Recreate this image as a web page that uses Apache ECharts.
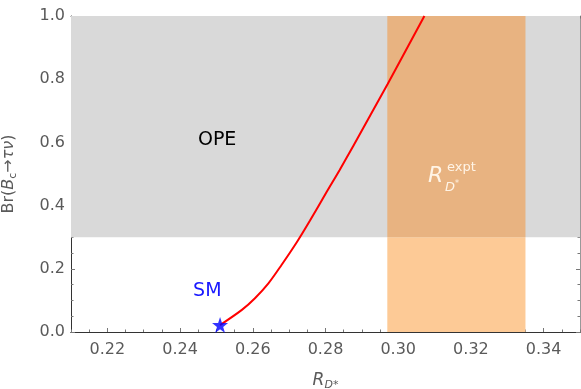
<!DOCTYPE html>
<html>
<head>
<meta charset="utf-8">
<script src="https://cdn.jsdelivr.net/npm/echarts@6/dist/echarts.min.js"></script>
<style>
html, body { margin: 0; padding: 0; background: #fff; }
#main { width: 581px; height: 389px; }
</style>
</head>
<body>
<div id="main"></div>
<script>
// curve Br(Bc -> tau nu) vs R_D*
var curveX = [0.2510, 0.2570, 0.2606, 0.2643, 0.2679, 0.2721, 0.2757, 0.2803, 0.2839, 0.2876, 0.2971, 0.3072];
var curveY = [0.022, 0.070, 0.107, 0.154, 0.212, 0.284, 0.352, 0.443, 0.513, 0.588, 0.785, 1.000];
var smPoint = [0.2510, 0.022];
var opeBound = [0.3, 1.0];
var exptBand = [0.297, 0.335];
var xMajor = [0.22, 0.24, 0.26, 0.28, 0.30, 0.32, 0.34];
var xMinor = [0.21, 0.215, 0.225, 0.23, 0.235, 0.245, 0.25, 0.255, 0.265, 0.27, 0.275, 0.285, 0.29, 0.295, 0.305, 0.31, 0.315, 0.325, 0.33, 0.335, 0.345, 0.35];

var myChart = echarts.init(document.getElementById("main"));
var font = "DejaVu Sans";
var starPath = 'path://M50,0 L61.8,35.1 L98.9,35.1 L69,57.3 L80.3,92.7 L50,71 L19.7,92.7 L31,57.3 L1.1,35.1 L38.2,35.1 Z';

function xAx(pos, ticks, len, labels, extra) {
    var a = {
        type: 'value', min: 0.21, max: 0.35, position: pos,
        axisLine: { show: true, onZero: false, lineStyle: { color: pos == 'bottom' ? '#333' : '#999', width: 1 } },
        axisTick: { show: true, inside: true, length: len, customValues: ticks, lineStyle: { color: '#777' } },
        axisLabel: { show: false },
        splitLine: { show: false }
    };
    if (labels) {
        a.axisLabel = {
            show: true, customValues: xMajor, color: '#5a5a5a', fontSize: 16, fontFamily: font, margin: 10,
            formatter: function (v) { return v.toFixed(2); }
        };
    }
    if (extra) {
        a.name = '{i|R}{s|D*}';
        a.nameLocation = 'middle';
        a.nameGap = 38;
        a.nameTextStyle = {
            rich: {
                i: { fontSize: 17, fontStyle: 'italic', color: '#5a5a5a', fontFamily: font },
                s: { fontSize: 11, fontStyle: 'italic', color: '#5a5a5a', fontFamily: font, padding: [10, 0, 0, 0] }
            }
        };
    }
    return a;
}

function yAx(pos, labels) {
    var a = {
        type: 'value', min: 0, max: 1, interval: 0.2, position: pos,
        axisLine: { show: true, onZero: false, lineStyle: { color: pos == 'left' ? '#333' : '#999', width: 1 } },
        axisTick: { show: true, inside: true, length: 4, lineStyle: { color: '#777' } },
        minorTick: { show: true, splitNumber: 4, length: 2.5, lineStyle: { color: '#777' } },
        axisLabel: { show: false },
        splitLine: { show: false }
    };
    if (labels) {
        a.axisLabel = {
            show: true, color: '#5a5a5a', fontSize: 16, fontFamily: font, margin: 6,
            formatter: function (v) { return v.toFixed(1); }
        };
        a.name = '{n|Br(}{i|B}{s|c}{i|→τν}{n|)}';
        a.nameLocation = 'middle';
        a.nameRotate = 90;
        a.nameGap = 52;
        a.nameTextStyle = {
            rich: {
                n: { fontSize: 16, color: '#5a5a5a', fontFamily: font },
                i: { fontSize: 16, color: '#5a5a5a', fontFamily: font, fontStyle: 'italic' },
                s: { fontSize: 11, color: '#5a5a5a', fontFamily: font, padding: [9, 0, 0, 0] }
            }
        };
    }
    return a;
}

var curveData = [];
for (var i = 0; i < curveX.length; i++) curveData.push([curveX[i], curveY[i]]);

option = {
    animation: false,
    grid: { left: 71, top: 16, right: 1, bottom: 57, containLabel: false, outerBoundsMode: 'none' },
    xAxis: [
        xAx('bottom', xMajor, 4, true, true),
        xAx('bottom', xMinor, 2.5, false, false),
        xAx('top', xMajor, 4, false, false),
        xAx('top', xMinor, 2.5, false, false)
    ],
    yAxis: [yAx('left', true), yAx('right', false)],
    series: [
        {
            name: 'regions',
            type: 'line',
            data: [],
            silent: true,
            markArea: {
                silent: true,
                data: [
                    [{ xAxis: 0.21, yAxis: opeBound[0], itemStyle: { color: '#d9d9d9' } }, { xAxis: 0.35, yAxis: opeBound[1] }],
                    [{ xAxis: exptBand[0], yAxis: 0, itemStyle: { color: '#fdca96' } }, { xAxis: exptBand[1], yAxis: opeBound[0] }],
                    [{ xAxis: exptBand[0], yAxis: opeBound[0], itemStyle: { color: '#e8b381' } }, { xAxis: exptBand[1], yAxis: opeBound[1] }]
                ]
            }
        },
        {
            name: 'curve',
            type: 'line',
            data: curveData,
            smooth: 0.3,
            symbol: 'none',
            lineStyle: { color: '#ff0000', width: 2 },
            z: 5
        },
        {
            name: 'SM',
            type: 'scatter',
            data: [smPoint],
            symbol: starPath,
            symbolSize: 16,
            itemStyle: { color: '#0000ff' },
            z: 6
        }
    ]
};

myChart.setOption(option);

// text labels placed at data coordinates
var pOPE = myChart.convertToPixel({ gridIndex: 0 }, [0.2502, 0.608]);
var pSM = myChart.convertToPixel({ gridIndex: 0 }, [0.2475, 0.130]);
var pR = myChart.convertToPixel({ gridIndex: 0 }, [0.3145, 0.49]);
var txt = '#fff4e6';
myChart.setOption({
    graphic: [
        { type: 'text', z: 100, x: pOPE[0], y: pOPE[1], style: { text: 'OPE', fill: '#000', fontSize: 19, fontFamily: font, align: 'center', verticalAlign: 'middle' } },
        { type: 'text', z: 100, x: pSM[0], y: pSM[1], style: { text: 'SM', fill: '#1a1aff', fontSize: 19, fontFamily: font, align: 'center', verticalAlign: 'middle' } },
        { type: 'text', z: 100, x: pR[0] - 23, y: pR[1] - 12, style: { text: 'R', fill: txt, fontSize: 22, fontStyle: 'italic', fontFamily: font } },
        { type: 'text', z: 100, x: pR[0] - 4, y: pR[1] - 16, style: { text: 'expt', fill: txt, fontSize: 13, fontFamily: font } },
        { type: 'text', z: 100, x: pR[0] - 6, y: pR[1] + 4, style: { text: 'D', fill: txt, fontSize: 13, fontStyle: 'italic', fontFamily: font } },
        { type: 'text', z: 100, x: pR[0] + 4, y: pR[1] + 3, style: { text: '*', fill: txt, fontSize: 8, fontFamily: font } }
    ]
});
</script>
</body>
</html>
